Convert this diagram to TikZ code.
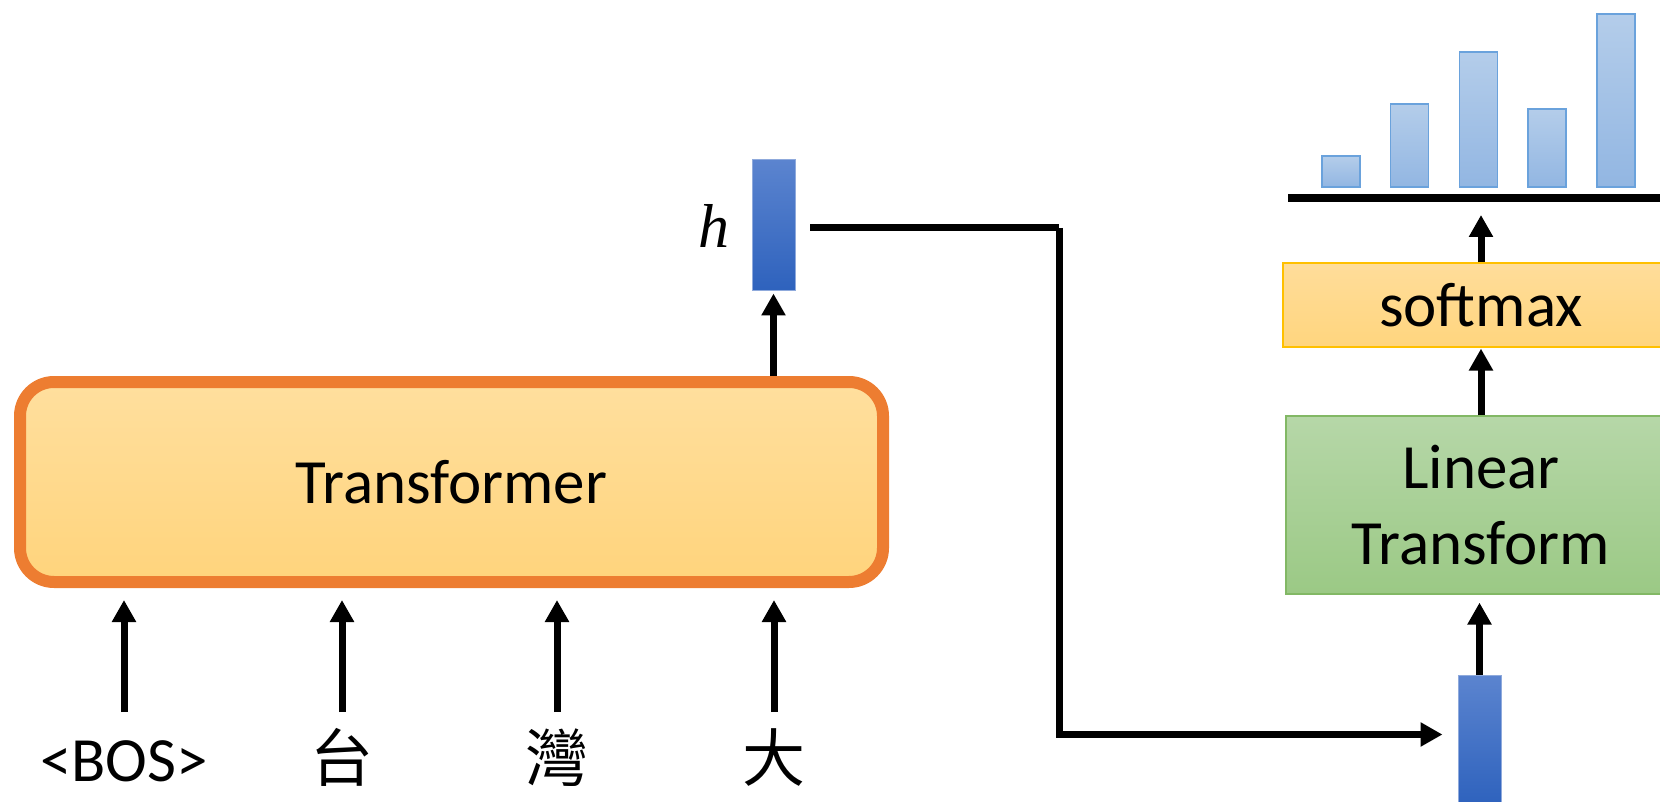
\documentclass[tikz,border=0pt]{standalone}
\usepackage{fontspec}
\setmainfont{Carlito}
\newfontfamily\cjk{Noto Sans CJK TC}
\newfontfamily\hfont{Liberation Serif}
\usetikzlibrary{positioning,arrows.meta,calc}
\definecolor{tfline}{HTML}{ED7D31}
\definecolor{tftop}{HTML}{FFDF9E}
\definecolor{tfbot}{HTML}{FFD47C}
\definecolor{vecline}{HTML}{8FAADC}
\definecolor{vectop}{HTML}{5B84CF}
\definecolor{vecbot}{HTML}{2E62BD}
\definecolor{linline}{HTML}{82B865}
\definecolor{lintop}{HTML}{B6D7A8}
\definecolor{linbot}{HTML}{9BC985}
\definecolor{smxline}{HTML}{FFC000}
\definecolor{smxtop}{HTML}{FFDD9A}
\definecolor{smxbot}{HTML}{FFD57E}
\definecolor{barline}{HTML}{6AA2DC}
\definecolor{bartop}{HTML}{B4CDEA}
\definecolor{barbot}{HTML}{92B6E2}
\tikzset{
  tfm/.style ={draw=tfline, line width=6pt, rounded corners=17pt, top color=tftop, bottom color=tfbot, minimum width=431.5pt, minimum height=100pt, font=\fontsize{31.5}{38}\selectfont},
  vec/.style ={draw=vecline, line width=0.5pt, top color=vectop, bottom color=vecbot, minimum width=21.5pt, minimum height=65.5pt, inner sep=0pt},
  lin/.style ={draw=linline, line width=0.6pt, top color=lintop, bottom color=linbot, minimum width=195pt, minimum height=89pt, align=center, font=\fontsize{31.5}{38}\selectfont},
  smx/.style ={draw=smxline, line width=0.6pt, top color=smxtop, bottom color=smxbot, minimum width=198pt, minimum height=42pt, font=\fontsize{31.5}{38}\selectfont},
  word/.style={inner sep=0pt, text height=0.8em, text depth=0.2em, font=\fontsize{31.5}{38}\selectfont},
  arr/.style ={-{Triangle[length=11pt,width=11.5pt]}, line width=3.5pt},
  link/.style={line width=3.5pt},
  bar/.style ={draw=barline, line width=0.75pt, top color=bartop, bottom color=barbot},
}
\begin{document}
\begin{tikzpicture}[x=0.5pt, y=-0.5pt]
  \useasboundingbox (0,0) rectangle (1660,802);
  % left: transformer over the prefix
  \node[tfm] (tfm) at (451.5,482) {Transformer};
  \node[word] (bos) at (124,775) {<BOS>};
  \node[word] (tai) at (342,775) {\cjk 台};
  \node[word] (wan) at (557,775) {\cjk 灣};
  \node[word] (da)  at (774,775) {\cjk 大};
  \foreach \w in {bos,tai,wan,da}
    \draw[arr, shorten <=31.5pt, shorten >=6pt] (\w.center) -- (\w |- tfm.south);
  \node[vec] (hvec) at (773.5,225.5) {};
  \node[inner sep=0pt, font=\hfont\itshape\fontsize{31}{36}\selectfont, left=11pt of hvec] (hlab) {h};
  \draw[arr, shorten >=1pt] (hvec.south |- tfm.north) -- (hvec.south);
  % right: linear + softmax
  \node[vec] (outvec) at (1479.5,740.5) {};
  \node[lin] (lin) at (1481,505) {Linear\\Transform};
  \node[smx] (smx) at (1481,305) {softmax};
  \coordinate (axl) at (1288,198);
  \coordinate (axr) at (1680,198);
  \draw[line width=4pt] (axl) -- (axr);
  \foreach \bx/\bt in {1341/156, 1409.5/104, 1478.5/52, 1547/109, 1616/14}
    \draw[bar] (\bx-19,\bt) rectangle (\bx+19,187);
  \draw[arr, shorten >=4pt] (outvec.north) -- (outvec.north |- lin.south);
  \draw[arr, shorten >=0.5pt] (lin.north) -- (lin.north |- smx.south);
  \draw[arr, shorten >=8.5pt] (smx.north) -- (smx.north |- axl);
  % h goes over to the output side
  \coordinate (hout) at (810,228);
  \coordinate (turn) at (1059,228);
  \draw[link] (hout) -- (turn);
  \draw[arr] (turn) |- ([xshift=-7.5pt,yshift=3pt]outvec.west);
\end{tikzpicture}
\end{document}
